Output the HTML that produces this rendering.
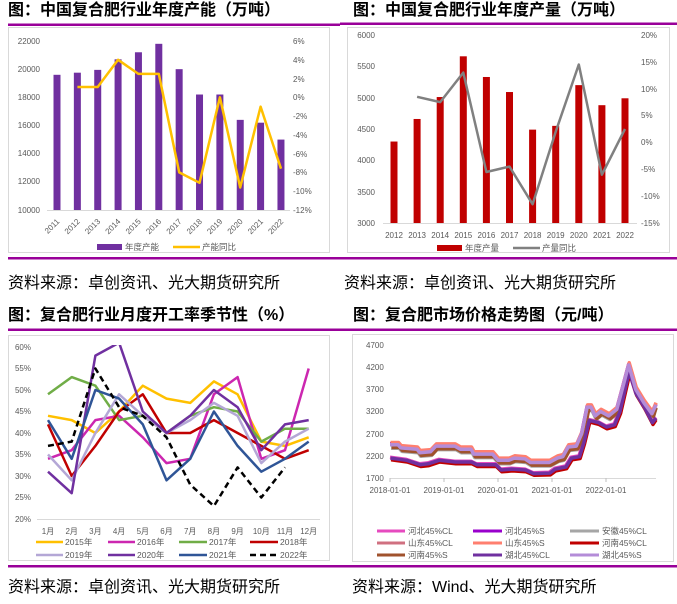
<!DOCTYPE html>
<html><head><meta charset="utf-8"><style>
body{margin:0;background:#fff}
svg{display:block}
.t{font:bold 16px "Liberation Sans","Noto Sans CJK SC",sans-serif;fill:#000}
.s{font:16px "Liberation Sans","Noto Sans CJK SC",sans-serif;fill:#000}
.a{font:8px "Liberation Sans","Noto Sans CJK SC",sans-serif;fill:#595959}
.l{font:8.5px "Liberation Sans","Noto Sans CJK SC",sans-serif;fill:#595959}
</style></head><body>
<svg id="s" width="677" height="604" viewBox="0 0 677 604" xmlns="http://www.w3.org/2000/svg">
<rect width="677" height="604" fill="#fff"/>
<text class="t" x="8" y="15">图：中国复合肥行业年度产能（万吨）</text>
<text class="t" x="353" y="15">图：中国复合肥行业年度产量（万吨）</text>
<text class="t" x="8" y="320">图：复合肥行业月度开工率季节性（%）</text>
<text class="t" x="353" y="320">图：复合肥市场价格走势图（元/吨）</text>
<rect x="8" y="23.5" width="332" height="2.5" fill="#990099"/>
<rect x="340" y="22.5" width="337" height="2.5" fill="#990099"/>
<rect x="8" y="257" width="332" height="2.5" fill="#990099"/>
<rect x="340" y="257" width="337" height="2.5" fill="#990099"/>
<rect x="8" y="328.5" width="332" height="2.5" fill="#990099"/>
<rect x="340" y="328.5" width="337" height="2.5" fill="#990099"/>
<rect x="8" y="565" width="332" height="2.5" fill="#990099"/>
<rect x="340" y="565" width="337" height="2.5" fill="#990099"/>
<rect x="8.5" y="27.5" width="321" height="225" fill="none" stroke="#d9d9d9"/>
<rect x="347.5" y="27.5" width="322" height="225" fill="none" stroke="#d9d9d9"/>
<rect x="8.5" y="335.5" width="321" height="225" fill="none" stroke="#d9d9d9"/>
<rect x="352.5" y="334.5" width="321" height="227" fill="none" stroke="#d9d9d9"/>
<text class="s" x="8" y="288">资料来源：卓创资讯、光大期货研究所</text>
<text class="s" x="344" y="288">资料来源：卓创资讯、光大期货研究所</text>
<text class="s" x="8" y="592">资料来源：卓创资讯、光大期货研究所</text>
<text class="s" x="352" y="592">资料来源：Wind、光大期货研究所</text>

<g class="a" text-anchor="end">
<text x="40" y="44">22000</text><text x="40" y="72">20000</text><text x="40" y="100">18000</text><text x="40" y="128">16000</text><text x="40" y="156">14000</text><text x="40" y="184">12000</text><text x="40" y="213">10000</text>
</g>
<g class="a">
<text x="293" y="44">6%</text><text x="293" y="63">4%</text><text x="293" y="82">2%</text><text x="293" y="100">0%</text><text x="293" y="119">-2%</text><text x="293" y="138">-4%</text><text x="293" y="157">-6%</text><text x="293" y="175">-8%</text><text x="293" y="194">-10%</text><text x="293" y="213">-12%</text>
</g>
<g class="a" text-anchor="end" id="c1x"></g>
<rect x="97" y="244" width="25" height="6" fill="#7030A0"/>
<text class="l" x="125" y="250">年度产能</text>
<line x1="173" y1="247" x2="200" y2="247" stroke="#FFC000" stroke-width="2.5"/>
<text class="l" x="202" y="250">产能同比</text>

<g class="a" text-anchor="end">
<text x="375" y="38">6000</text><text x="375" y="69">5500</text><text x="375" y="101">5000</text><text x="375" y="132">4500</text><text x="375" y="163">4000</text><text x="375" y="195">3500</text><text x="375" y="226">3000</text>
</g>
<g class="a">
<text x="641" y="38">20%</text><text x="641" y="65">15%</text><text x="641" y="92">10%</text><text x="641" y="118">5%</text><text x="641" y="145">0%</text><text x="641" y="172">-5%</text><text x="641" y="199">-10%</text><text x="641" y="226">-15%</text>
</g>
<g class="a" text-anchor="middle" id="c2x"></g>
<rect x="437" y="245" width="25" height="6" fill="#C00000"/>
<text class="l" x="465" y="251">年度产量</text>
<line x1="513" y1="248" x2="540" y2="248" stroke="#808080" stroke-width="2.5"/>
<text class="l" x="542" y="251">产量同比</text>

<g class="a" text-anchor="end">
<text x="31" y="350">60%</text><text x="31" y="371">55%</text><text x="31" y="393">50%</text><text x="31" y="414">45%</text><text x="31" y="436">40%</text><text x="31" y="457">35%</text><text x="31" y="479">30%</text><text x="31" y="500">25%</text><text x="31" y="522">20%</text>
</g>
<g class="a" text-anchor="middle" id="c3x"></g>
<g class="l">
<line x1="36" y1="542" x2="63" y2="542" stroke="#FFC000" stroke-width="2.5"/><text x="65" y="545">2015年</text>
<line x1="108" y1="542" x2="135" y2="542" stroke="#CC27B0" stroke-width="2.5"/><text x="137" y="545">2016年</text>
<line x1="179" y1="542" x2="207" y2="542" stroke="#70AD47" stroke-width="2.5"/><text x="209" y="545">2017年</text>
<line x1="250" y1="542" x2="278" y2="542" stroke="#C00000" stroke-width="2.5"/><text x="280" y="545">2018年</text>
<line x1="36" y1="555" x2="63" y2="555" stroke="#B4A7D6" stroke-width="2.5"/><text x="65" y="558">2019年</text>
<line x1="108" y1="555" x2="135" y2="555" stroke="#7030A0" stroke-width="2.5"/><text x="137" y="558">2020年</text>
<line x1="179" y1="555" x2="207" y2="555" stroke="#2F5597" stroke-width="2.5"/><text x="209" y="558">2021年</text>
<line x1="250" y1="555" x2="278" y2="555" stroke="#000" stroke-width="2.5" stroke-dasharray="6,4"/><text x="280" y="558">2022年</text>
</g>

<g class="a">
<text x="366" y="348">4700</text><text x="366" y="370">4200</text><text x="366" y="392">3700</text><text x="366" y="414">3200</text><text x="366" y="437">2700</text><text x="366" y="459">2200</text><text x="366" y="481">1700</text>
</g>
<g class="a" text-anchor="middle">
<text x="390" y="493">2018-01-01</text><text x="444" y="493">2019-01-01</text><text x="498" y="493">2020-01-01</text><text x="552" y="493">2021-01-01</text><text x="606" y="493">2022-01-01</text>
</g>
<g class="l">
<line x1="377" y1="531" x2="405" y2="531" stroke="#E64ABF" stroke-width="3"/><text x="408" y="534">河北45%CL</text>
<line x1="473" y1="531" x2="502" y2="531" stroke="#9900CC" stroke-width="3"/><text x="505" y="534">河北45%S</text>
<line x1="570" y1="531" x2="599" y2="531" stroke="#A6A6A6" stroke-width="3"/><text x="602" y="534">安徽45%CL</text>
<line x1="377" y1="543" x2="405" y2="543" stroke="#D07080" stroke-width="3"/><text x="408" y="546">山东45%CL</text>
<line x1="473" y1="543" x2="502" y2="543" stroke="#FF7F6F" stroke-width="3"/><text x="505" y="546">山东45%S</text>
<line x1="570" y1="543" x2="599" y2="543" stroke="#C00000" stroke-width="3"/><text x="602" y="546">河南45%CL</text>
<line x1="377" y1="555" x2="405" y2="555" stroke="#A0522D" stroke-width="3"/><text x="408" y="558">河南45%S</text>
<line x1="473" y1="555" x2="502" y2="555" stroke="#7030A0" stroke-width="3"/><text x="505" y="558">湖北45%CL</text>
<line x1="570" y1="555" x2="599" y2="555" stroke="#B48CD8" stroke-width="3"/><text x="602" y="558">湖北45%S</text>
</g>
<g id="g"></g>
</svg>
<script>
var NS="http://www.w3.org/2000/svg",G=document.getElementById("g");
function el(t,a,p){var e=document.createElementNS(NS,t);for(var k in a)e.setAttribute(k,a[k]);(p||G).appendChild(e);return e;}
function pl(pts,a){a.d="M"+pts.map(function(p){return p[0].toFixed(1)+","+p[1].toFixed(1)}).join("L");a.fill="none";a["stroke-linejoin"]="round";el("path",a);}
el("line",{x1:47,y1:210.5,x2:290,y2:210.5,stroke:"#d9d9d9"});
var b1=[19600,19750,19950,20700,21200,21800,20000,18200,18200,16400,16200,15000];
var l1=[null,1.1,1.1,4,2.5,2.5,-8,-9.1,0,-9.6,-1,-7.6],p1=[];
var c1x=document.getElementById("c1x");
b1.forEach(function(v,i){var x=57+i*20.36,y=210-(v-10000)/12000*169;
 el("rect",{x:x-3.5,y:y,width:7,height:210-y,fill:"#7030A0"});
 if(l1[i]!==null)p1.push([x,41+(6-l1[i])/18*169]);
 var t=el("text",{x:x+3,y:222,transform:"rotate(-45 "+(x+3)+" 222)"},c1x);t.textContent=2011+i;});
pl(p1,{stroke:"#FFC000","stroke-width":2.5});
el("line",{x1:383,y1:223.5,x2:637,y2:223.5,stroke:"#d9d9d9"});
var b2=[4300,4660,5010,5660,5330,5090,4490,4550,5200,4880,4990];
var l2=[null,8.5,7.5,13,-5.5,-4.5,-11.5,2,14.5,-6,2.5],p2=[];
var c2x=document.getElementById("c2x");
b2.forEach(function(v,i){var x=394+i*23.1,y=223-(v-3000)/3000*188;
 el("rect",{x:x-3.5,y:y,width:7,height:223-y,fill:"#C00000"});
 if(l2[i]!==null)p2.push([x,35+(20-l2[i])/35*188]);
 var t=el("text",{x:x,y:238},c2x);t.textContent=2012+i;});
pl(p2,{stroke:"#808080","stroke-width":2.5});
el("line",{x1:37,y1:519.5,x2:320,y2:519.5,stroke:"#d9d9d9"});
var c3x=document.getElementById("c3x");
for(var i=0;i<12;i++){var t=el("text",{x:48+i*23.7,y:534},c3x);t.textContent=(i+1)+"月";}
var S=[["#FFC000",[44,43,40,45,51,48,47,52,49,38,37,39]],
["#CC27B0",[34,36,43,44,39,33,34,49,53,34,36,55]],
["#70AD47",[49,53,51,43,44,40,44,46,45,38,41,41]],
["#C00000",[42,30,37,45,49,40,40,43,40,37,34,36]],
["#B4A7D6",[35,29,40,49,44,40,43,47,44,33,38,41]],
["#7030A0",[31,26,58,61,45,40,44,50,46,36,42,43]],
["#2F5597",[43,34,50,48,42,29,34,45,37,31,34,38]],
["#000",[37,38,55,46,44,39,28,23,32,25,32]]];
var clip=el("clipPath",{id:"cp"});el("rect",{x:30,y:345,width:300,height:180},clip);
var g3=el("g",{"clip-path":"url(#cp)"});
S.forEach(function(s,j){var pts=s[1].map(function(v,i){return[48+i*23.7,519-(v-20)/40*172];});
 var a={d:"M"+pts.map(function(p){return p[0].toFixed(1)+","+p[1].toFixed(1)}).join("L"),fill:"none",stroke:s[0],"stroke-width":2.5,"stroke-linejoin":"round"};
 if(j==7)a["stroke-dasharray"]="6,4";el("path",a,g3);});
el("line",{x1:390,y1:478.5,x2:656,y2:478.5,stroke:"#d9d9d9"});
[390,444,498,552,606].forEach(function(x){el("line",{x1:x,y1:478,x2:x,y2:482,stroke:"#bfbfbf"});});
var U=[[2018,2450],[2018.15,2450],[2018.2,2380],[2018.5,2350],[2018.55,2270],[2018.75,2290],[2018.85,2420],[2019.2,2420],[2019.3,2350],[2019.5,2350],[2019.55,2240],[2019.9,2240],[2020,2100],[2020.2,2100],[2020.3,2150],[2020.5,2130],[2020.6,2050],[2020.95,2050],[2021.1,2150],[2021.2,2180],[2021.3,2400],[2021.45,2420],[2021.55,2700],[2021.65,3300],[2021.72,3300],[2021.8,3100],[2021.9,3200],[2022.05,3100],[2022.2,3250],[2022.3,3700],[2022.42,4250],[2022.55,3700],[2022.7,3400],[2022.85,3150],[2022.93,3350]];
var L=[[2018,2150],[2018.3,2100],[2018.55,2000],[2018.7,2020],[2018.9,2100],[2019.2,2060],[2019.5,2060],[2019.6,2000],[2019.95,2000],[2020.05,1880],[2020.25,1900],[2020.5,1880],[2020.65,1800],[2020.95,1810],[2021.05,1900],[2021.25,1950],[2021.35,2150],[2021.5,2180],[2021.58,2500],[2021.68,3000],[2021.85,2950],[2022,2850],[2022.15,2900],[2022.25,3200],[2022.42,4100],[2022.55,3600],[2022.7,3300],[2022.85,2950],[2022.93,3050]];
function ps(d,off,dt){return d.map(function(p){return[Math.min(656,390+(p[0]-2018+(dt||0))*54),478-(p[1]+off-1700)/3000*133];});}
var P=[[U,-80,"#A6A6A6",0.02],[L,20,"#E64ABF",0],[L,-10,"#D07080",0.01],[L,-40,"#C00000",0.02],[U,-60,"#A0522D",0.03],[U,20,"#9900CC",0],[U,50,"#FF7F6F",0.01],[L,0,"#7030A0",0.01],[U,0,"#B48CD8",0]];
P.forEach(function(s){pl(ps(s[0],s[1],s[3]),{stroke:s[2],"stroke-width":3.5});});
</script>
</body></html>
